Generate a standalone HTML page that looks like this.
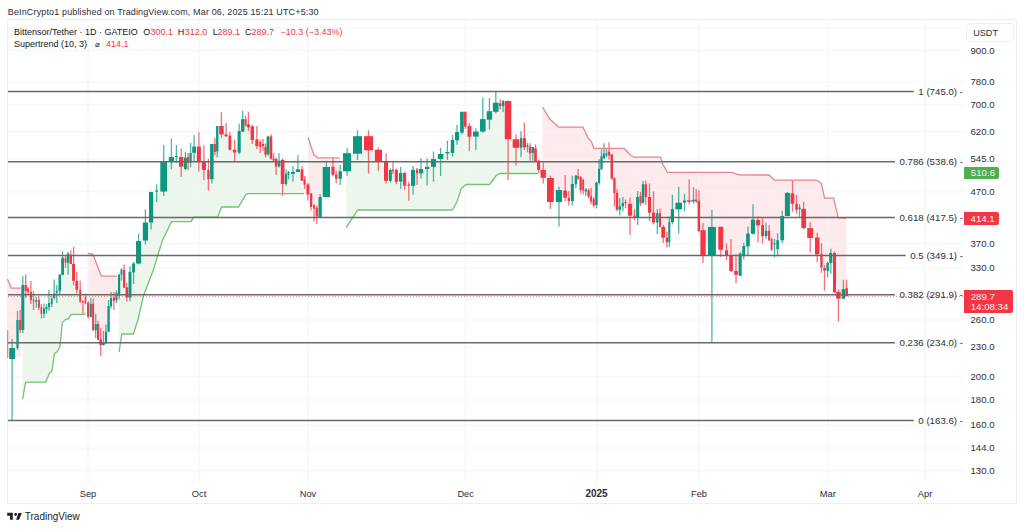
<!DOCTYPE html><html><head><meta charset="utf-8"><style>
html,body{margin:0;padding:0;background:#fff;width:1024px;height:530px;overflow:hidden}
body{position:relative;font-family:"Liberation Sans",sans-serif;color:#131722}
.t{position:absolute;white-space:nowrap;line-height:10px;height:10px}
.r{color:#f23645}
svg{position:absolute;left:0;top:0}
</style></head><body>
<svg width="1024" height="530" viewBox="0 0 1024 530">
<polygon points="7.4,279.0 11.3,288.1 20.7,288.1 21.3,288.1 21.3,357.0 7.5,357.0" fill="#fdeaec"/>
<polygon points="22.7,399.2 25.6,382.1 45.8,382.1 49.2,373.8 52.0,371.0 54.4,353.6 57.0,352.0 60.0,346.8 62.3,322.6 65.3,319.6 68.3,318.9 71.3,314.3 85.7,314.3 85.7,300.2 85.5,300.2 82.9,301.8 80.2,295.6 76.8,285.3 73.6,272.4 70.8,259.5 68.1,258.1 65.5,260.2 62.6,266.2 59.8,282.7 56.8,291.8 54.2,295.7 51.7,301.1 49.0,305.0 46.5,308.1 44.0,311.1 41.4,310.4 38.8,303.8 36.2,300.9 33.5,300.5 30.9,295.9 28.1,290.2 25.7,288.0 22.8,307.5 22.7,307.5" fill="#ecf6ec"/>
<polygon points="87.8,253.4 92.3,253.9 93.4,255.4 101.4,276.2 116.8,276.2 116.8,296.6 116.5,296.6 113.9,299.2 111.0,302.1 108.6,318.9 106.0,337.4 103.5,343.5 100.7,342.1 98.0,331.9 95.7,327.1 93.2,317.1 90.8,310.4 88.2,309.8 87.8,309.8" fill="#fdeaec"/>
<polygon points="119.1,352.1 121.7,334.0 133.4,334.0 137.9,320.0 143.7,294.9 153.3,270.0 162.6,240.0 168.0,229.0 170.0,224.5 171.7,221.7 191.0,221.7 193.8,217.2 217.6,217.2 221.5,207.0 238.5,207.0 246.0,194.4 248.3,193.7 304.3,193.7 304.3,181.9 304.6,181.9 302.0,174.9 297.9,170.7 293.0,172.9 288.5,173.5 286.1,178.9 282.6,172.0 279.0,163.6 276.1,162.7 273.6,159.6 271.1,147.6 268.1,145.4 265.5,150.8 263.0,145.0 260.2,144.5 256.9,142.8 252.3,133.2 248.4,125.8 245.6,122.0 242.7,125.4 239.1,141.8 234.6,151.1 229.9,142.6 226.1,135.2 221.4,130.2 217.2,138.7 214.9,148.0 211.8,161.6 208.4,174.5 203.9,166.1 198.9,154.4 194.1,149.7 190.6,157.8 188.1,159.8 185.4,163.3 181.2,161.8 176.4,156.4 171.4,159.0 163.7,176.3 156.6,191.1 151.1,207.2 145.4,231.5 138.6,252.3 133.6,267.9 130.0,284.7 126.8,292.4 124.1,278.9 121.5,272.1 119.1,285.1 119.1,285.1" fill="#ecf6ec"/>
<polygon points="308.2,137.5 313.7,154.4 317.5,157.8 339.7,157.8 339.7,175.0 340.2,175.0 336.2,176.7 332.9,170.8 326.4,182.0 320.1,207.0 316.8,212.2 314.0,206.9 311.1,200.2 307.9,189.5 308.2,189.5" fill="#fdeaec"/>
<polygon points="346.2,227.6 357.6,210.0 452.4,210.0 456.8,202.1 461.3,188.5 465.9,184.5 489.6,184.5 496.4,175.5 499.8,173.5 538.0,173.5 538.0,165.4 538.7,165.4 535.5,155.2 532.8,150.0 530.0,150.1 527.5,146.0 524.3,142.8 521.0,143.0 516.0,143.6 508.1,120.2 503.1,103.5 500.2,104.7 495.8,107.2 489.4,115.5 482.8,125.3 475.9,134.1 469.4,131.3 465.3,119.2 462.0,122.2 457.0,136.2 452.5,146.4 447.4,152.7 440.6,156.5 433.5,162.9 427.1,167.9 421.0,171.2 417.1,171.4 413.1,177.8 408.8,185.2 404.6,179.3 400.7,177.2 396.4,175.9 393.0,170.3 390.4,175.4 386.1,171.2 378.4,155.9 368.5,143.2 357.5,144.9 347.1,162.2 346.2,162.2" fill="#ecf6ec"/>
<polygon points="542.5,107.0 550.0,119.3 558.7,127.2 583.0,127.2 588.1,137.9 591.5,141.9 593.8,148.3 624.0,148.3 630.5,155.0 634.0,157.2 660.6,157.2 662.8,164.3 667.4,172.4 731.5,172.4 739.0,174.9 769.2,175.0 774.2,180.0 817.1,180.2 821.3,183.5 824.6,198.1 833.6,198.1 838.3,217.9 846.3,218.4 846.3,292.2 846.6,292.2 843.4,293.9 838.4,295.3 834.5,272.6 830.8,257.9 827.6,266.9 824.5,269.3 821.5,261.0 817.2,245.9 810.2,233.1 803.6,218.4 799.5,208.2 796.5,206.9 792.5,198.6 787.4,204.4 782.2,228.2 777.6,244.8 774.5,243.8 771.6,244.5 769.2,235.6 766.0,233.4 762.5,230.6 758.0,222.7 753.0,226.8 748.0,240.0 743.8,250.9 740.2,264.6 736.0,272.9 731.0,263.2 726.5,252.9 720.8,238.3 711.9,241.2 703.0,242.8 698.9,215.9 696.2,200.5 693.5,200.6 689.2,201.1 684.5,201.6 678.7,206.0 672.4,215.7 669.3,232.3 666.9,239.8 663.2,232.3 660.0,220.1 657.3,217.9 653.5,217.6 649.5,204.8 645.8,190.7 643.0,193.5 640.5,199.6 637.7,207.1 634.5,216.4 630.0,209.8 625.5,202.8 622.9,204.8 619.8,208.1 617.0,201.2 614.4,185.4 611.8,166.6 609.0,153.6 606.5,154.5 604.0,155.9 601.5,162.7 599.1,175.9 596.5,193.8 593.7,202.4 591.1,198.9 588.6,193.4 585.8,190.5 583.2,185.2 580.6,183.7 578.1,177.3 575.9,180.0 572.3,192.5 568.8,199.5 565.2,194.1 559.0,196.0 550.4,190.0 543.2,173.9 542.5,173.9" fill="#fdeaec"/>
<g>
<rect x="7.5" y="19.5" width="1009" height="484" fill="none" stroke="#efeff1" stroke-width="1"/>
<line x1="8" y1="27.7" x2="963" y2="27.7" stroke="#f4f5f6" stroke-opacity="0.6" stroke-width="2"/>
<line x1="8" y1="50.6" x2="963" y2="50.6" stroke="#f4f5f6" stroke-opacity="0.6" stroke-width="2"/>
<line x1="8" y1="81.7" x2="963" y2="81.7" stroke="#f4f5f6" stroke-opacity="0.6" stroke-width="2"/>
<line x1="8" y1="105.1" x2="963" y2="105.1" stroke="#f4f5f6" stroke-opacity="0.6" stroke-width="2"/>
<line x1="8" y1="131.5" x2="963" y2="131.5" stroke="#f4f5f6" stroke-opacity="0.6" stroke-width="2"/>
<line x1="8" y1="159.4" x2="963" y2="159.4" stroke="#f4f5f6" stroke-opacity="0.6" stroke-width="2"/>
<line x1="8" y1="191.6" x2="963" y2="191.6" stroke="#f4f5f6" stroke-opacity="0.6" stroke-width="2"/>
<line x1="8" y1="243.5" x2="963" y2="243.5" stroke="#f4f5f6" stroke-opacity="0.6" stroke-width="2"/>
<line x1="8" y1="268.3" x2="963" y2="268.3" stroke="#f4f5f6" stroke-opacity="0.6" stroke-width="2"/>
<line x1="8" y1="320.1" x2="963" y2="320.1" stroke="#f4f5f6" stroke-opacity="0.6" stroke-width="2"/>
<line x1="8" y1="346.7" x2="963" y2="346.7" stroke="#f4f5f6" stroke-opacity="0.6" stroke-width="2"/>
<line x1="8" y1="377.0" x2="963" y2="377.0" stroke="#f4f5f6" stroke-opacity="0.6" stroke-width="2"/>
<line x1="8" y1="399.8" x2="963" y2="399.8" stroke="#f4f5f6" stroke-opacity="0.6" stroke-width="2"/>
<line x1="8" y1="425.4" x2="963" y2="425.4" stroke="#f4f5f6" stroke-opacity="0.6" stroke-width="2"/>
<line x1="8" y1="448.3" x2="963" y2="448.3" stroke="#f4f5f6" stroke-opacity="0.6" stroke-width="2"/>
<line x1="8" y1="470.5" x2="963" y2="470.5" stroke="#f4f5f6" stroke-opacity="0.6" stroke-width="2"/>
<line x1="88" y1="20" x2="88" y2="483" stroke="#f4f5f6" stroke-opacity="0.6" stroke-width="2"/>
<line x1="199" y1="20" x2="199" y2="483" stroke="#f4f5f6" stroke-opacity="0.6" stroke-width="2"/>
<line x1="308" y1="20" x2="308" y2="483" stroke="#f4f5f6" stroke-opacity="0.6" stroke-width="2"/>
<line x1="465.7" y1="20" x2="465.7" y2="483" stroke="#f4f5f6" stroke-opacity="0.6" stroke-width="2"/>
<line x1="596.7" y1="20" x2="596.7" y2="483" stroke="#f4f5f6" stroke-opacity="0.6" stroke-width="2"/>
<line x1="699" y1="20" x2="699" y2="483" stroke="#f4f5f6" stroke-opacity="0.6" stroke-width="2"/>
<line x1="827.8" y1="20" x2="827.8" y2="483" stroke="#f4f5f6" stroke-opacity="0.6" stroke-width="2"/>
<line x1="925" y1="20" x2="925" y2="483" stroke="#f4f5f6" stroke-opacity="0.6" stroke-width="2"/>
</g>
<line x1="7.6" y1="330" x2="7.6" y2="358" stroke="#f23645" stroke-opacity="0.6" stroke-width="1.2"/>
<line x1="12.1" y1="339" x2="12.1" y2="420" stroke="#0c9880" stroke-opacity="0.72" stroke-width="1.3"/>
<rect x="9.2" y="348" width="5.9" height="11.0" fill="#0c9880"/>
<line x1="17.5" y1="311" x2="17.5" y2="350" stroke="#0c9880" stroke-opacity="0.72" stroke-width="1.3"/>
<rect x="16.4" y="320" width="2.2" height="28.0" fill="#0c9880"/>
<line x1="20.2" y1="310" x2="20.2" y2="333" stroke="#f23645" stroke-opacity="0.72" stroke-width="1.3"/>
<rect x="19.2" y="320" width="2.0" height="10.0" fill="#f23645"/>
<line x1="22.8" y1="276" x2="22.8" y2="333" stroke="#0c9880" stroke-opacity="0.72" stroke-width="1.3"/>
<rect x="21.3" y="285" width="3.0" height="45.0" fill="#0c9880"/>
<line x1="25.7" y1="274.5" x2="25.7" y2="298" stroke="#f23645" stroke-opacity="0.72" stroke-width="1.3"/>
<rect x="24.6" y="285" width="2.2" height="6.0" fill="#f23645"/>
<line x1="28.1" y1="286.8" x2="28.1" y2="294.3" stroke="#f23645" stroke-opacity="0.72" stroke-width="1.3"/>
<rect x="27.1" y="288.5" width="1.9" height="3.5" fill="#f23645"/>
<line x1="30.9" y1="281" x2="30.9" y2="304" stroke="#f23645" stroke-opacity="0.72" stroke-width="1.3"/>
<rect x="30" y="291.8" width="1.9" height="8.2" fill="#f23645"/>
<line x1="33.5" y1="291" x2="33.5" y2="310" stroke="#f23645" stroke-opacity="0.72" stroke-width="1.3"/>
<rect x="32.9" y="299.4" width="1.3" height="2.3" fill="#f23645"/>
<line x1="36.2" y1="296.8" x2="36.2" y2="307.7" stroke="#0c9880" stroke-opacity="0.72" stroke-width="1.3"/>
<rect x="35.3" y="300" width="1.9" height="1.7" fill="#0c9880"/>
<line x1="38.8" y1="296.4" x2="38.8" y2="310" stroke="#f23645" stroke-opacity="0.72" stroke-width="1.3"/>
<rect x="37.9" y="299.8" width="1.9" height="7.9" fill="#f23645"/>
<line x1="41.4" y1="304" x2="41.4" y2="318.5" stroke="#f23645" stroke-opacity="0.72" stroke-width="1.3"/>
<rect x="40.6" y="307" width="1.6" height="6.7" fill="#f23645"/>
<line x1="44.0" y1="303.5" x2="44.0" y2="318" stroke="#0c9880" stroke-opacity="0.72" stroke-width="1.3"/>
<rect x="43" y="308.5" width="2.0" height="5.2" fill="#0c9880"/>
<line x1="46.5" y1="304" x2="46.5" y2="313.7" stroke="#0c9880" stroke-opacity="0.72" stroke-width="1.3"/>
<rect x="45.5" y="307" width="1.9" height="2.2" fill="#0c9880"/>
<line x1="49.0" y1="290" x2="49.0" y2="310.7" stroke="#0c9880" stroke-opacity="0.72" stroke-width="1.3"/>
<rect x="48" y="303" width="2.0" height="4.0" fill="#0c9880"/>
<line x1="51.7" y1="295.6" x2="51.7" y2="307" stroke="#0c9880" stroke-opacity="0.72" stroke-width="1.3"/>
<rect x="50.8" y="298.3" width="1.8" height="5.7" fill="#0c9880"/>
<line x1="54.2" y1="279.4" x2="54.2" y2="299.4" stroke="#0c9880" stroke-opacity="0.72" stroke-width="1.3"/>
<rect x="53.2" y="293.4" width="2.1" height="4.6" fill="#0c9880"/>
<line x1="56.8" y1="285" x2="56.8" y2="303" stroke="#0c9880" stroke-opacity="0.72" stroke-width="1.3"/>
<rect x="55.7" y="291" width="2.2" height="1.6" fill="#0c9880"/>
<line x1="59.8" y1="274" x2="59.8" y2="294" stroke="#0c9880" stroke-opacity="0.72" stroke-width="1.3"/>
<rect x="58.5" y="274.7" width="2.5" height="16.0" fill="#0c9880"/>
<line x1="62.6" y1="251.3" x2="62.6" y2="275.5" stroke="#0c9880" stroke-opacity="0.72" stroke-width="1.3"/>
<rect x="61.2" y="257.8" width="2.8" height="16.9" fill="#0c9880"/>
<line x1="65.5" y1="255" x2="65.5" y2="268" stroke="#f23645" stroke-opacity="0.72" stroke-width="1.3"/>
<rect x="64.6" y="257.8" width="1.8" height="4.8" fill="#f23645"/>
<line x1="68.1" y1="251.8" x2="68.1" y2="274.7" stroke="#0c9880" stroke-opacity="0.72" stroke-width="1.3"/>
<rect x="66.8" y="253.6" width="2.6" height="9.0" fill="#0c9880"/>
<line x1="70.8" y1="250.3" x2="70.8" y2="264" stroke="#f23645" stroke-opacity="0.72" stroke-width="1.3"/>
<rect x="69.7" y="255" width="2.3" height="9.0" fill="#f23645"/>
<line x1="73.6" y1="246.8" x2="73.6" y2="285.3" stroke="#f23645" stroke-opacity="0.72" stroke-width="1.3"/>
<rect x="72.1" y="264" width="3.0" height="16.8" fill="#f23645"/>
<line x1="76.8" y1="271.7" x2="76.8" y2="293.6" stroke="#f23645" stroke-opacity="0.72" stroke-width="1.3"/>
<rect x="75.4" y="280.8" width="2.8" height="9.0" fill="#f23645"/>
<line x1="80.2" y1="280.7" x2="80.2" y2="303" stroke="#f23645" stroke-opacity="0.72" stroke-width="1.3"/>
<rect x="79.3" y="289.7" width="1.9" height="11.8" fill="#f23645"/>
<line x1="82.9" y1="300.5" x2="82.9" y2="313.7" stroke="#f23645" stroke-opacity="0.72" stroke-width="1.3"/>
<rect x="82.1" y="301" width="1.6" height="1.5" fill="#f23645"/>
<line x1="85.5" y1="293.5" x2="85.5" y2="304.3" stroke="#f23645" stroke-opacity="0.72" stroke-width="1.3"/>
<rect x="84.7" y="297" width="1.5" height="6.4" fill="#f23645"/>
<line x1="88.2" y1="301" x2="88.2" y2="318.5" stroke="#f23645" stroke-opacity="0.72" stroke-width="1.3"/>
<rect x="87.1" y="302.9" width="2.1" height="13.7" fill="#f23645"/>
<line x1="90.8" y1="298" x2="90.8" y2="317.5" stroke="#0c9880" stroke-opacity="0.72" stroke-width="1.3"/>
<rect x="89.7" y="303.8" width="2.1" height="13.2" fill="#0c9880"/>
<line x1="93.2" y1="298.6" x2="93.2" y2="330.8" stroke="#f23645" stroke-opacity="0.72" stroke-width="1.3"/>
<rect x="92.2" y="303.8" width="1.9" height="26.5" fill="#f23645"/>
<line x1="95.7" y1="313.8" x2="95.7" y2="338.3" stroke="#0c9880" stroke-opacity="0.72" stroke-width="1.3"/>
<rect x="94.6" y="324" width="2.2" height="6.3" fill="#0c9880"/>
<line x1="98.0" y1="320.8" x2="98.0" y2="340.2" stroke="#f23645" stroke-opacity="0.72" stroke-width="1.3"/>
<rect x="97" y="324" width="2.1" height="15.7" fill="#f23645"/>
<line x1="100.7" y1="328" x2="100.7" y2="356.2" stroke="#f23645" stroke-opacity="0.72" stroke-width="1.3"/>
<rect x="99.4" y="339.2" width="2.5" height="5.8" fill="#f23645"/>
<line x1="103.5" y1="331" x2="103.5" y2="345.5" stroke="#0c9880" stroke-opacity="0.72" stroke-width="1.3"/>
<rect x="102.2" y="342" width="2.6" height="3.0" fill="#0c9880"/>
<line x1="106.0" y1="324.6" x2="106.0" y2="344" stroke="#0c9880" stroke-opacity="0.72" stroke-width="1.3"/>
<rect x="105" y="331.7" width="2.1" height="11.3" fill="#0c9880"/>
<line x1="108.6" y1="300" x2="108.6" y2="332" stroke="#0c9880" stroke-opacity="0.72" stroke-width="1.3"/>
<rect x="107.4" y="306" width="2.3" height="25.7" fill="#0c9880"/>
<line x1="111.0" y1="291.9" x2="111.0" y2="308.5" stroke="#0c9880" stroke-opacity="0.72" stroke-width="1.3"/>
<rect x="110" y="298" width="2.1" height="8.2" fill="#0c9880"/>
<line x1="113.9" y1="292" x2="113.9" y2="310" stroke="#f23645" stroke-opacity="0.72" stroke-width="1.3"/>
<rect x="112.9" y="297.5" width="2.0" height="3.5" fill="#f23645"/>
<line x1="116.5" y1="290.4" x2="116.5" y2="303.2" stroke="#0c9880" stroke-opacity="0.72" stroke-width="1.3"/>
<rect x="115.4" y="293" width="2.1" height="7.2" fill="#0c9880"/>
<line x1="119.1" y1="274" x2="119.1" y2="299.4" stroke="#0c9880" stroke-opacity="0.72" stroke-width="1.3"/>
<rect x="117.9" y="274.5" width="2.3" height="21.2" fill="#0c9880"/>
<line x1="121.5" y1="268.2" x2="121.5" y2="280.6" stroke="#0c9880" stroke-opacity="0.72" stroke-width="1.3"/>
<rect x="120.5" y="269.6" width="1.9" height="4.9" fill="#0c9880"/>
<line x1="124.1" y1="264.4" x2="124.1" y2="288" stroke="#f23645" stroke-opacity="0.72" stroke-width="1.3"/>
<rect x="123" y="270" width="2.2" height="17.7" fill="#f23645"/>
<line x1="126.8" y1="282.8" x2="126.8" y2="301.7" stroke="#f23645" stroke-opacity="0.72" stroke-width="1.3"/>
<rect x="125.5" y="287.4" width="2.6" height="10.1" fill="#f23645"/>
<line x1="130.0" y1="266.3" x2="130.0" y2="301.3" stroke="#0c9880" stroke-opacity="0.72" stroke-width="1.3"/>
<rect x="128.5" y="271.9" width="3.0" height="25.6" fill="#0c9880"/>
<line x1="133.6" y1="261.9" x2="133.6" y2="284" stroke="#0c9880" stroke-opacity="0.72" stroke-width="1.3"/>
<rect x="132.1" y="263.5" width="2.9" height="8.8" fill="#0c9880"/>
<line x1="138.6" y1="233.8" x2="138.6" y2="264.4" stroke="#0c9880" stroke-opacity="0.72" stroke-width="1.3"/>
<rect x="136" y="241.1" width="5.1" height="22.4" fill="#0c9880"/>
<line x1="145.4" y1="209.3" x2="145.4" y2="244.6" stroke="#0c9880" stroke-opacity="0.72" stroke-width="1.3"/>
<rect x="142.8" y="222.5" width="5.2" height="18.0" fill="#0c9880"/>
<line x1="151.1" y1="191.9" x2="151.1" y2="229.6" stroke="#0c9880" stroke-opacity="0.72" stroke-width="1.3"/>
<rect x="149" y="191.9" width="4.2" height="30.6" fill="#0c9880"/>
<line x1="156.6" y1="184.3" x2="156.6" y2="202.3" stroke="#0c9880" stroke-opacity="0.72" stroke-width="1.3"/>
<rect x="155.2" y="190.5" width="2.8" height="1.1" fill="#0c9880"/>
<line x1="163.7" y1="145" x2="163.7" y2="196" stroke="#0c9880" stroke-opacity="0.72" stroke-width="1.3"/>
<rect x="160.3" y="161" width="6.7" height="30.6" fill="#0c9880"/>
<line x1="171.4" y1="138.4" x2="171.4" y2="169" stroke="#0c9880" stroke-opacity="0.72" stroke-width="1.3"/>
<rect x="168.8" y="157" width="5.1" height="4.0" fill="#0c9880"/>
<line x1="176.4" y1="145" x2="176.4" y2="162.7" stroke="#0c9880" stroke-opacity="0.72" stroke-width="1.3"/>
<rect x="175" y="156" width="2.8" height="1.0" fill="#0c9880"/>
<line x1="181.2" y1="148.6" x2="181.2" y2="176.9" stroke="#f23645" stroke-opacity="0.72" stroke-width="1.3"/>
<rect x="179" y="157" width="4.5" height="9.7" fill="#f23645"/>
<line x1="185.4" y1="151.8" x2="185.4" y2="170" stroke="#0c9880" stroke-opacity="0.72" stroke-width="1.3"/>
<rect x="184" y="157.6" width="2.9" height="11.4" fill="#0c9880"/>
<line x1="188.1" y1="153" x2="188.1" y2="170" stroke="#f23645" stroke-opacity="0.72" stroke-width="1.3"/>
<rect x="187.1" y="157" width="2.1" height="5.7" fill="#f23645"/>
<line x1="190.6" y1="143" x2="190.6" y2="167.3" stroke="#0c9880" stroke-opacity="0.72" stroke-width="1.3"/>
<rect x="189.4" y="153" width="2.3" height="9.7" fill="#0c9880"/>
<line x1="194.1" y1="135" x2="194.1" y2="161.2" stroke="#0c9880" stroke-opacity="0.72" stroke-width="1.3"/>
<rect x="192.2" y="146.6" width="3.8" height="6.2" fill="#0c9880"/>
<line x1="198.9" y1="132.2" x2="198.9" y2="171.5" stroke="#f23645" stroke-opacity="0.72" stroke-width="1.3"/>
<rect x="196.9" y="146.6" width="4.0" height="15.6" fill="#f23645"/>
<line x1="203.9" y1="145.2" x2="203.9" y2="180.2" stroke="#f23645" stroke-opacity="0.72" stroke-width="1.3"/>
<rect x="201.8" y="162.2" width="4.2" height="7.7" fill="#f23645"/>
<line x1="208.4" y1="159" x2="208.4" y2="190.6" stroke="#f23645" stroke-opacity="0.72" stroke-width="1.3"/>
<rect x="207.3" y="169.8" width="2.3" height="9.4" fill="#f23645"/>
<line x1="211.8" y1="144" x2="211.8" y2="183.5" stroke="#0c9880" stroke-opacity="0.72" stroke-width="1.3"/>
<rect x="210.1" y="144" width="3.5" height="35.2" fill="#0c9880"/>
<line x1="214.9" y1="137.8" x2="214.9" y2="155.3" stroke="#f23645" stroke-opacity="0.72" stroke-width="1.3"/>
<rect x="213.9" y="144" width="2.0" height="8.0" fill="#f23645"/>
<line x1="217.2" y1="126" x2="217.2" y2="157.6" stroke="#0c9880" stroke-opacity="0.72" stroke-width="1.3"/>
<rect x="216.1" y="126" width="2.3" height="25.4" fill="#0c9880"/>
<line x1="221.4" y1="112" x2="221.4" y2="137.8" stroke="#f23645" stroke-opacity="0.72" stroke-width="1.3"/>
<rect x="219.2" y="126" width="4.5" height="8.4" fill="#f23645"/>
<line x1="226.1" y1="123.1" x2="226.1" y2="137" stroke="#f23645" stroke-opacity="0.72" stroke-width="1.3"/>
<rect x="224.5" y="134.4" width="3.1" height="1.7" fill="#f23645"/>
<line x1="229.9" y1="132.2" x2="229.9" y2="150.5" stroke="#f23645" stroke-opacity="0.72" stroke-width="1.3"/>
<rect x="228.5" y="135.6" width="2.8" height="14.1" fill="#f23645"/>
<line x1="234.6" y1="139.5" x2="234.6" y2="162.3" stroke="#f23645" stroke-opacity="0.72" stroke-width="1.3"/>
<rect x="232.8" y="149.7" width="3.5" height="2.8" fill="#f23645"/>
<line x1="239.1" y1="123.7" x2="239.1" y2="154.3" stroke="#0c9880" stroke-opacity="0.72" stroke-width="1.3"/>
<rect x="237.6" y="131" width="3.1" height="21.6" fill="#0c9880"/>
<line x1="242.7" y1="110.7" x2="242.7" y2="132" stroke="#0c9880" stroke-opacity="0.72" stroke-width="1.3"/>
<rect x="241" y="119.2" width="3.4" height="12.4" fill="#0c9880"/>
<line x1="245.6" y1="115.8" x2="245.6" y2="126.5" stroke="#f23645" stroke-opacity="0.72" stroke-width="1.3"/>
<rect x="244.6" y="119.2" width="2.0" height="5.6" fill="#f23645"/>
<line x1="248.4" y1="111.8" x2="248.4" y2="131" stroke="#f23645" stroke-opacity="0.72" stroke-width="1.3"/>
<rect x="246.8" y="124.3" width="3.2" height="3.0" fill="#f23645"/>
<line x1="252.3" y1="124.7" x2="252.3" y2="144" stroke="#f23645" stroke-opacity="0.72" stroke-width="1.3"/>
<rect x="250.6" y="126.4" width="3.4" height="13.6" fill="#f23645"/>
<line x1="256.9" y1="125.9" x2="256.9" y2="149" stroke="#f23645" stroke-opacity="0.72" stroke-width="1.3"/>
<rect x="255.3" y="139.4" width="3.2" height="6.8" fill="#f23645"/>
<line x1="260.2" y1="139.4" x2="260.2" y2="153" stroke="#f23645" stroke-opacity="0.72" stroke-width="1.3"/>
<rect x="259.3" y="142" width="1.9" height="5.0" fill="#f23645"/>
<line x1="263.0" y1="138.9" x2="263.0" y2="150.8" stroke="#f23645" stroke-opacity="0.72" stroke-width="1.3"/>
<rect x="261.9" y="144" width="2.3" height="2.0" fill="#f23645"/>
<line x1="265.5" y1="143.4" x2="265.5" y2="157.6" stroke="#f23645" stroke-opacity="0.72" stroke-width="1.3"/>
<rect x="264.4" y="146.8" width="2.2" height="7.9" fill="#f23645"/>
<line x1="268.1" y1="135.5" x2="268.1" y2="156" stroke="#0c9880" stroke-opacity="0.72" stroke-width="1.3"/>
<rect x="266.6" y="136.6" width="2.9" height="17.6" fill="#0c9880"/>
<line x1="271.1" y1="134.3" x2="271.1" y2="159.8" stroke="#f23645" stroke-opacity="0.72" stroke-width="1.3"/>
<rect x="269.8" y="136.6" width="2.5" height="22.1" fill="#f23645"/>
<line x1="273.6" y1="153" x2="273.6" y2="161" stroke="#f23645" stroke-opacity="0.72" stroke-width="1.3"/>
<rect x="272.5" y="158.7" width="2.1" height="1.7" fill="#f23645"/>
<line x1="276.1" y1="157.6" x2="276.1" y2="175" stroke="#f23645" stroke-opacity="0.72" stroke-width="1.3"/>
<rect x="274.8" y="159" width="2.6" height="7.4" fill="#f23645"/>
<line x1="279.0" y1="153.2" x2="279.0" y2="167.6" stroke="#0c9880" stroke-opacity="0.72" stroke-width="1.3"/>
<rect x="277.7" y="160.8" width="2.7" height="5.6" fill="#0c9880"/>
<line x1="282.6" y1="158.5" x2="282.6" y2="195.9" stroke="#f23645" stroke-opacity="0.72" stroke-width="1.3"/>
<rect x="280.8" y="160" width="3.7" height="24.0" fill="#f23645"/>
<line x1="286.1" y1="169.3" x2="286.1" y2="185.7" stroke="#0c9880" stroke-opacity="0.72" stroke-width="1.3"/>
<rect x="285" y="173.8" width="2.2" height="10.2" fill="#0c9880"/>
<line x1="288.5" y1="171" x2="288.5" y2="179.4" stroke="#0c9880" stroke-opacity="0.72" stroke-width="1.3"/>
<rect x="287.6" y="172" width="1.7" height="3.0" fill="#0c9880"/>
<line x1="293.0" y1="165.9" x2="293.0" y2="181.7" stroke="#0c9880" stroke-opacity="0.72" stroke-width="1.3"/>
<rect x="291" y="172" width="4.0" height="1.8" fill="#0c9880"/>
<line x1="297.9" y1="155.1" x2="297.9" y2="172" stroke="#0c9880" stroke-opacity="0.72" stroke-width="1.3"/>
<rect x="295.8" y="169.3" width="4.2" height="2.7" fill="#0c9880"/>
<line x1="302.0" y1="165.9" x2="302.0" y2="181" stroke="#f23645" stroke-opacity="0.72" stroke-width="1.3"/>
<rect x="300.6" y="169.3" width="2.8" height="11.3" fill="#f23645"/>
<line x1="304.6" y1="176" x2="304.6" y2="189" stroke="#f23645" stroke-opacity="0.72" stroke-width="1.3"/>
<rect x="303.5" y="179.4" width="2.2" height="5.1" fill="#f23645"/>
<line x1="307.9" y1="182.8" x2="307.9" y2="200.6" stroke="#f23645" stroke-opacity="0.72" stroke-width="1.3"/>
<rect x="306.4" y="184.5" width="3.0" height="10.0" fill="#f23645"/>
<line x1="311.1" y1="193" x2="311.1" y2="210.5" stroke="#f23645" stroke-opacity="0.72" stroke-width="1.3"/>
<rect x="310" y="193.5" width="2.3" height="13.5" fill="#f23645"/>
<line x1="314.0" y1="204" x2="314.0" y2="221.5" stroke="#f23645" stroke-opacity="0.72" stroke-width="1.3"/>
<rect x="313.2" y="205.2" width="1.7" height="3.4" fill="#f23645"/>
<line x1="316.8" y1="205.6" x2="316.8" y2="224.1" stroke="#f23645" stroke-opacity="0.72" stroke-width="1.3"/>
<rect x="315.6" y="207.9" width="2.3" height="8.7" fill="#f23645"/>
<line x1="320.1" y1="194" x2="320.1" y2="217.5" stroke="#0c9880" stroke-opacity="0.72" stroke-width="1.3"/>
<rect x="318.5" y="197" width="3.3" height="20.0" fill="#0c9880"/>
<line x1="326.4" y1="160.8" x2="326.4" y2="197.5" stroke="#0c9880" stroke-opacity="0.72" stroke-width="1.3"/>
<rect x="322.7" y="167" width="7.3" height="30.0" fill="#0c9880"/>
<line x1="332.9" y1="157.7" x2="332.9" y2="176.4" stroke="#f23645" stroke-opacity="0.72" stroke-width="1.3"/>
<rect x="331.4" y="166.8" width="3.1" height="7.9" fill="#f23645"/>
<line x1="336.2" y1="171.3" x2="336.2" y2="183.2" stroke="#f23645" stroke-opacity="0.72" stroke-width="1.3"/>
<rect x="335" y="174.7" width="2.5" height="4.0" fill="#f23645"/>
<line x1="340.2" y1="165" x2="340.2" y2="184.9" stroke="#0c9880" stroke-opacity="0.72" stroke-width="1.3"/>
<rect x="338.5" y="171.3" width="3.4" height="7.4" fill="#0c9880"/>
<line x1="347.1" y1="148.1" x2="347.1" y2="175.8" stroke="#0c9880" stroke-opacity="0.72" stroke-width="1.3"/>
<rect x="343" y="153.2" width="8.1" height="18.1" fill="#0c9880"/>
<line x1="357.5" y1="130.3" x2="357.5" y2="160" stroke="#0c9880" stroke-opacity="0.72" stroke-width="1.3"/>
<rect x="353" y="136.2" width="9.0" height="17.5" fill="#0c9880"/>
<line x1="368.5" y1="130.3" x2="368.5" y2="173.6" stroke="#f23645" stroke-opacity="0.72" stroke-width="1.3"/>
<rect x="364" y="136.2" width="9.0" height="14.1" fill="#f23645"/>
<line x1="378.4" y1="147.5" x2="378.4" y2="170.7" stroke="#f23645" stroke-opacity="0.72" stroke-width="1.3"/>
<rect x="374.9" y="149.8" width="7.1" height="12.2" fill="#f23645"/>
<line x1="386.1" y1="153.2" x2="386.1" y2="183.5" stroke="#f23645" stroke-opacity="0.72" stroke-width="1.3"/>
<rect x="384" y="161.7" width="4.1" height="19.1" fill="#f23645"/>
<line x1="390.4" y1="168.4" x2="390.4" y2="182.7" stroke="#0c9880" stroke-opacity="0.72" stroke-width="1.3"/>
<rect x="388.9" y="169.9" width="2.9" height="10.9" fill="#0c9880"/>
<line x1="393.0" y1="162.3" x2="393.0" y2="174" stroke="#f23645" stroke-opacity="0.72" stroke-width="1.3"/>
<rect x="392.2" y="169.5" width="1.7" height="1.7" fill="#f23645"/>
<line x1="396.4" y1="168.5" x2="396.4" y2="184.2" stroke="#f23645" stroke-opacity="0.72" stroke-width="1.3"/>
<rect x="394.8" y="169.9" width="3.1" height="11.9" fill="#f23645"/>
<line x1="400.7" y1="166.9" x2="400.7" y2="188.8" stroke="#0c9880" stroke-opacity="0.72" stroke-width="1.3"/>
<rect x="399" y="172.9" width="3.4" height="8.7" fill="#0c9880"/>
<line x1="404.6" y1="172" x2="404.6" y2="189.9" stroke="#f23645" stroke-opacity="0.72" stroke-width="1.3"/>
<rect x="403.1" y="172.9" width="3.1" height="12.8" fill="#f23645"/>
<line x1="408.8" y1="182" x2="408.8" y2="200.8" stroke="#f23645" stroke-opacity="0.72" stroke-width="1.3"/>
<rect x="407.5" y="184.6" width="2.5" height="1.2" fill="#f23645"/>
<line x1="413.1" y1="166.1" x2="413.1" y2="194.8" stroke="#0c9880" stroke-opacity="0.72" stroke-width="1.3"/>
<rect x="411" y="169.8" width="4.2" height="16.0" fill="#0c9880"/>
<line x1="417.1" y1="168" x2="417.1" y2="185" stroke="#f23645" stroke-opacity="0.72" stroke-width="1.3"/>
<rect x="416" y="169.5" width="2.1" height="3.8" fill="#f23645"/>
<line x1="421.0" y1="158.3" x2="421.0" y2="178.4" stroke="#0c9880" stroke-opacity="0.72" stroke-width="1.3"/>
<rect x="418.9" y="169.1" width="4.3" height="4.3" fill="#0c9880"/>
<line x1="427.1" y1="158.3" x2="427.1" y2="185.5" stroke="#0c9880" stroke-opacity="0.72" stroke-width="1.3"/>
<rect x="425" y="166.8" width="4.3" height="2.2" fill="#0c9880"/>
<line x1="433.5" y1="151.4" x2="433.5" y2="181.6" stroke="#0c9880" stroke-opacity="0.72" stroke-width="1.3"/>
<rect x="431" y="159" width="5.0" height="7.9" fill="#0c9880"/>
<line x1="440.6" y1="147.8" x2="440.6" y2="176" stroke="#0c9880" stroke-opacity="0.72" stroke-width="1.3"/>
<rect x="437.8" y="154" width="5.6" height="5.0" fill="#0c9880"/>
<line x1="447.4" y1="140.7" x2="447.4" y2="160.1" stroke="#0c9880" stroke-opacity="0.72" stroke-width="1.3"/>
<rect x="445.3" y="152" width="4.1" height="1.4" fill="#0c9880"/>
<line x1="452.5" y1="135" x2="452.5" y2="156.7" stroke="#0c9880" stroke-opacity="0.72" stroke-width="1.3"/>
<rect x="450.8" y="139.9" width="3.4" height="13.1" fill="#0c9880"/>
<line x1="457.0" y1="124.8" x2="457.0" y2="144.8" stroke="#0c9880" stroke-opacity="0.72" stroke-width="1.3"/>
<rect x="455" y="132" width="4.0" height="8.3" fill="#0c9880"/>
<line x1="462.0" y1="111.8" x2="462.0" y2="134.4" stroke="#0c9880" stroke-opacity="0.72" stroke-width="1.3"/>
<rect x="460.1" y="111.8" width="3.7" height="20.9" fill="#0c9880"/>
<line x1="465.3" y1="111.8" x2="465.3" y2="128.8" stroke="#f23645" stroke-opacity="0.72" stroke-width="1.3"/>
<rect x="464" y="111.8" width="2.6" height="14.7" fill="#f23645"/>
<line x1="469.4" y1="123.1" x2="469.4" y2="151" stroke="#f23645" stroke-opacity="0.72" stroke-width="1.3"/>
<rect x="467.5" y="126" width="3.9" height="10.7" fill="#f23645"/>
<line x1="475.9" y1="128.2" x2="475.9" y2="150" stroke="#0c9880" stroke-opacity="0.72" stroke-width="1.3"/>
<rect x="473" y="131.6" width="5.7" height="5.0" fill="#0c9880"/>
<line x1="482.8" y1="97.6" x2="482.8" y2="132.7" stroke="#0c9880" stroke-opacity="0.72" stroke-width="1.3"/>
<rect x="480" y="119.1" width="5.6" height="12.5" fill="#0c9880"/>
<line x1="489.4" y1="98" x2="489.4" y2="129.3" stroke="#0c9880" stroke-opacity="0.72" stroke-width="1.3"/>
<rect x="486.7" y="111.2" width="5.4" height="8.5" fill="#0c9880"/>
<line x1="495.8" y1="92" x2="495.8" y2="113.5" stroke="#0c9880" stroke-opacity="0.72" stroke-width="1.3"/>
<rect x="492.9" y="102.7" width="5.7" height="9.1" fill="#0c9880"/>
<line x1="500.2" y1="99.3" x2="500.2" y2="109.5" stroke="#f23645" stroke-opacity="0.72" stroke-width="1.3"/>
<rect x="499" y="103.3" width="2.4" height="2.8" fill="#f23645"/>
<line x1="503.1" y1="100" x2="503.1" y2="112.3" stroke="#0c9880" stroke-opacity="0.72" stroke-width="1.3"/>
<rect x="502" y="101" width="2.3" height="5.1" fill="#0c9880"/>
<line x1="508.1" y1="100.5" x2="508.1" y2="180.1" stroke="#f23645" stroke-opacity="0.72" stroke-width="1.3"/>
<rect x="504.8" y="101" width="6.5" height="38.3" fill="#f23645"/>
<line x1="516.0" y1="134.2" x2="516.0" y2="165.4" stroke="#f23645" stroke-opacity="0.72" stroke-width="1.3"/>
<rect x="512.7" y="139.3" width="6.6" height="8.5" fill="#f23645"/>
<line x1="521.0" y1="131.2" x2="521.0" y2="156.9" stroke="#0c9880" stroke-opacity="0.72" stroke-width="1.3"/>
<rect x="519.8" y="138.2" width="2.3" height="9.6" fill="#0c9880"/>
<line x1="524.3" y1="122.5" x2="524.3" y2="150" stroke="#f23645" stroke-opacity="0.72" stroke-width="1.3"/>
<rect x="522.6" y="138.2" width="3.4" height="9.1" fill="#f23645"/>
<line x1="527.5" y1="142.7" x2="527.5" y2="152.3" stroke="#0c9880" stroke-opacity="0.72" stroke-width="1.3"/>
<rect x="526.6" y="145" width="1.7" height="2.0" fill="#0c9880"/>
<line x1="530.0" y1="143.3" x2="530.0" y2="160.8" stroke="#f23645" stroke-opacity="0.72" stroke-width="1.3"/>
<rect x="528.9" y="146.7" width="2.2" height="6.8" fill="#f23645"/>
<line x1="532.8" y1="147" x2="532.8" y2="160.8" stroke="#0c9880" stroke-opacity="0.72" stroke-width="1.3"/>
<rect x="531.5" y="147" width="2.5" height="6.0" fill="#0c9880"/>
<line x1="535.5" y1="144.4" x2="535.5" y2="162" stroke="#f23645" stroke-opacity="0.72" stroke-width="1.3"/>
<rect x="534.2" y="148.4" width="2.6" height="13.6" fill="#f23645"/>
<line x1="538.7" y1="159.7" x2="538.7" y2="173.3" stroke="#f23645" stroke-opacity="0.72" stroke-width="1.3"/>
<rect x="537.1" y="160.8" width="3.1" height="9.1" fill="#f23645"/>
<line x1="543.2" y1="162.5" x2="543.2" y2="183.5" stroke="#f23645" stroke-opacity="0.72" stroke-width="1.3"/>
<rect x="540.5" y="169.9" width="5.4" height="7.9" fill="#f23645"/>
<line x1="550.4" y1="175.7" x2="550.4" y2="208.9" stroke="#f23645" stroke-opacity="0.72" stroke-width="1.3"/>
<rect x="547" y="178" width="6.8" height="24.0" fill="#f23645"/>
<line x1="559.0" y1="186.4" x2="559.0" y2="226.4" stroke="#0c9880" stroke-opacity="0.72" stroke-width="1.3"/>
<rect x="555.8" y="190" width="6.3" height="12.0" fill="#0c9880"/>
<line x1="565.2" y1="175.1" x2="565.2" y2="201" stroke="#f23645" stroke-opacity="0.72" stroke-width="1.3"/>
<rect x="563.2" y="190.6" width="3.9" height="7.1" fill="#f23645"/>
<line x1="568.8" y1="191" x2="568.8" y2="205.5" stroke="#f23645" stroke-opacity="0.72" stroke-width="1.3"/>
<rect x="567.6" y="198" width="2.4" height="3.0" fill="#f23645"/>
<line x1="572.3" y1="175.7" x2="572.3" y2="205.5" stroke="#0c9880" stroke-opacity="0.72" stroke-width="1.3"/>
<rect x="570.8" y="184" width="3.1" height="17.0" fill="#0c9880"/>
<line x1="575.9" y1="175" x2="575.9" y2="188.6" stroke="#0c9880" stroke-opacity="0.72" stroke-width="1.3"/>
<rect x="574.7" y="175.7" width="2.3" height="8.6" fill="#0c9880"/>
<line x1="578.1" y1="168.9" x2="578.1" y2="180" stroke="#f23645" stroke-opacity="0.72" stroke-width="1.3"/>
<rect x="577.3" y="176.2" width="1.7" height="2.3" fill="#f23645"/>
<line x1="580.6" y1="176.2" x2="580.6" y2="193.5" stroke="#f23645" stroke-opacity="0.72" stroke-width="1.3"/>
<rect x="579.5" y="177.4" width="2.3" height="12.6" fill="#f23645"/>
<line x1="583.2" y1="178.5" x2="583.2" y2="194.4" stroke="#f23645" stroke-opacity="0.72" stroke-width="1.3"/>
<rect x="582.4" y="180" width="1.7" height="10.5" fill="#f23645"/>
<line x1="585.8" y1="188.1" x2="585.8" y2="196" stroke="#0c9880" stroke-opacity="0.72" stroke-width="1.3"/>
<rect x="584.6" y="189.5" width="2.3" height="2.0" fill="#0c9880"/>
<line x1="588.6" y1="188.7" x2="588.6" y2="198.6" stroke="#f23645" stroke-opacity="0.72" stroke-width="1.3"/>
<rect x="587.5" y="190.3" width="2.2" height="6.2" fill="#f23645"/>
<line x1="591.1" y1="188.1" x2="591.1" y2="204.3" stroke="#f23645" stroke-opacity="0.72" stroke-width="1.3"/>
<rect x="590.2" y="196.4" width="1.8" height="5.1" fill="#f23645"/>
<line x1="593.7" y1="197" x2="593.7" y2="207.2" stroke="#f23645" stroke-opacity="0.72" stroke-width="1.3"/>
<rect x="592.6" y="199.3" width="2.2" height="6.2" fill="#f23645"/>
<line x1="596.5" y1="181.9" x2="596.5" y2="208.3" stroke="#0c9880" stroke-opacity="0.72" stroke-width="1.3"/>
<rect x="595.2" y="182.7" width="2.5" height="22.3" fill="#0c9880"/>
<line x1="599.1" y1="159.3" x2="599.1" y2="184.7" stroke="#0c9880" stroke-opacity="0.72" stroke-width="1.3"/>
<rect x="598" y="168.9" width="2.2" height="14.1" fill="#0c9880"/>
<line x1="601.5" y1="149.3" x2="601.5" y2="170" stroke="#0c9880" stroke-opacity="0.72" stroke-width="1.3"/>
<rect x="600.4" y="156.4" width="2.2" height="12.6" fill="#0c9880"/>
<line x1="604.0" y1="143.2" x2="604.0" y2="159.2" stroke="#0c9880" stroke-opacity="0.72" stroke-width="1.3"/>
<rect x="602.9" y="153.6" width="2.2" height="4.7" fill="#0c9880"/>
<line x1="606.5" y1="148.4" x2="606.5" y2="157.8" stroke="#0c9880" stroke-opacity="0.72" stroke-width="1.3"/>
<rect x="605.7" y="153" width="1.6" height="3.0" fill="#0c9880"/>
<line x1="609.0" y1="142.2" x2="609.0" y2="159.7" stroke="#f23645" stroke-opacity="0.72" stroke-width="1.3"/>
<rect x="607.9" y="151.7" width="2.3" height="3.8" fill="#f23645"/>
<line x1="611.8" y1="154" x2="611.8" y2="180" stroke="#f23645" stroke-opacity="0.72" stroke-width="1.3"/>
<rect x="610.5" y="154.5" width="2.5" height="24.1" fill="#f23645"/>
<line x1="614.4" y1="177.2" x2="614.4" y2="206.4" stroke="#f23645" stroke-opacity="0.72" stroke-width="1.3"/>
<rect x="613.3" y="178.1" width="2.2" height="14.7" fill="#f23645"/>
<line x1="617.0" y1="189" x2="617.0" y2="211.2" stroke="#f23645" stroke-opacity="0.72" stroke-width="1.3"/>
<rect x="615.7" y="192.8" width="2.5" height="16.9" fill="#f23645"/>
<line x1="619.8" y1="198" x2="619.8" y2="215.4" stroke="#0c9880" stroke-opacity="0.72" stroke-width="1.3"/>
<rect x="618.4" y="206.4" width="2.8" height="3.3" fill="#0c9880"/>
<line x1="622.9" y1="197" x2="622.9" y2="211.6" stroke="#0c9880" stroke-opacity="0.72" stroke-width="1.3"/>
<rect x="621.7" y="203.1" width="2.3" height="3.3" fill="#0c9880"/>
<line x1="625.5" y1="199.4" x2="625.5" y2="208.3" stroke="#f23645" stroke-opacity="0.72" stroke-width="1.3"/>
<rect x="624.5" y="202" width="1.9" height="1.5" fill="#f23645"/>
<line x1="630.0" y1="197.5" x2="630.0" y2="234.9" stroke="#f23645" stroke-opacity="0.72" stroke-width="1.3"/>
<rect x="627.9" y="203.9" width="4.2" height="11.8" fill="#f23645"/>
<line x1="634.5" y1="208.8" x2="634.5" y2="220.3" stroke="#f23645" stroke-opacity="0.72" stroke-width="1.3"/>
<rect x="633.4" y="215.5" width="2.1" height="1.9" fill="#f23645"/>
<line x1="637.7" y1="190.9" x2="637.7" y2="225" stroke="#0c9880" stroke-opacity="0.72" stroke-width="1.3"/>
<rect x="636.1" y="197" width="3.1" height="20.2" fill="#0c9880"/>
<line x1="640.5" y1="191.8" x2="640.5" y2="206" stroke="#f23645" stroke-opacity="0.72" stroke-width="1.3"/>
<rect x="639.6" y="196" width="1.9" height="7.1" fill="#f23645"/>
<line x1="643.0" y1="181" x2="643.0" y2="204" stroke="#0c9880" stroke-opacity="0.72" stroke-width="1.3"/>
<rect x="641.8" y="184.3" width="2.5" height="18.4" fill="#0c9880"/>
<line x1="645.8" y1="180.5" x2="645.8" y2="205" stroke="#f23645" stroke-opacity="0.72" stroke-width="1.3"/>
<rect x="644.6" y="184.3" width="2.3" height="12.7" fill="#f23645"/>
<line x1="649.5" y1="183.3" x2="649.5" y2="221.2" stroke="#f23645" stroke-opacity="0.72" stroke-width="1.3"/>
<rect x="648" y="197" width="3.1" height="15.7" fill="#f23645"/>
<line x1="653.5" y1="191.3" x2="653.5" y2="224.5" stroke="#f23645" stroke-opacity="0.72" stroke-width="1.3"/>
<rect x="651.9" y="212.5" width="3.3" height="10.1" fill="#f23645"/>
<line x1="657.3" y1="209" x2="657.3" y2="234" stroke="#0c9880" stroke-opacity="0.72" stroke-width="1.3"/>
<rect x="656.1" y="213.2" width="2.4" height="9.4" fill="#0c9880"/>
<line x1="660.0" y1="208.5" x2="660.0" y2="227.5" stroke="#f23645" stroke-opacity="0.72" stroke-width="1.3"/>
<rect x="659" y="213.2" width="2.0" height="13.7" fill="#f23645"/>
<line x1="663.2" y1="225" x2="663.2" y2="242.9" stroke="#f23645" stroke-opacity="0.72" stroke-width="1.3"/>
<rect x="661.3" y="226.9" width="3.8" height="10.8" fill="#f23645"/>
<line x1="666.9" y1="232" x2="666.9" y2="247.6" stroke="#f23645" stroke-opacity="0.72" stroke-width="1.3"/>
<rect x="665.6" y="237.7" width="2.6" height="4.3" fill="#f23645"/>
<line x1="669.3" y1="216.5" x2="669.3" y2="247.2" stroke="#0c9880" stroke-opacity="0.72" stroke-width="1.3"/>
<rect x="668.4" y="222.2" width="1.9" height="20.3" fill="#0c9880"/>
<line x1="672.4" y1="194.7" x2="672.4" y2="224.5" stroke="#0c9880" stroke-opacity="0.72" stroke-width="1.3"/>
<rect x="670.8" y="209.2" width="3.2" height="13.0" fill="#0c9880"/>
<line x1="678.7" y1="186.7" x2="678.7" y2="233.5" stroke="#0c9880" stroke-opacity="0.72" stroke-width="1.3"/>
<rect x="675.4" y="202.7" width="6.6" height="6.6" fill="#0c9880"/>
<line x1="684.5" y1="193.8" x2="684.5" y2="211.2" stroke="#0c9880" stroke-opacity="0.72" stroke-width="1.3"/>
<rect x="683.1" y="200.4" width="2.8" height="2.3" fill="#0c9880"/>
<line x1="689.2" y1="179.2" x2="689.2" y2="204.6" stroke="#f23645" stroke-opacity="0.72" stroke-width="1.3"/>
<rect x="686.9" y="200.4" width="4.7" height="1.4" fill="#f23645"/>
<line x1="693.5" y1="187.2" x2="693.5" y2="203.7" stroke="#0c9880" stroke-opacity="0.72" stroke-width="1.3"/>
<rect x="692" y="199.9" width="2.9" height="1.4" fill="#0c9880"/>
<line x1="696.2" y1="189" x2="696.2" y2="203" stroke="#f23645" stroke-opacity="0.72" stroke-width="1.3"/>
<rect x="695.2" y="199.5" width="2.0" height="2.0" fill="#f23645"/>
<line x1="698.9" y1="190" x2="698.9" y2="232" stroke="#f23645" stroke-opacity="0.72" stroke-width="1.3"/>
<rect x="697.6" y="200.8" width="2.5" height="30.3" fill="#f23645"/>
<line x1="703.0" y1="223.1" x2="703.0" y2="263" stroke="#f23645" stroke-opacity="0.72" stroke-width="1.3"/>
<rect x="700.4" y="230.2" width="5.3" height="25.3" fill="#f23645"/>
<line x1="711.9" y1="209.9" x2="711.9" y2="342.3" stroke="#0c9880" stroke-opacity="0.72" stroke-width="1.3"/>
<rect x="707.9" y="226.9" width="8.0" height="28.6" fill="#0c9880"/>
<line x1="720.8" y1="226.8" x2="720.8" y2="256.9" stroke="#f23645" stroke-opacity="0.72" stroke-width="1.3"/>
<rect x="718.3" y="226.8" width="4.9" height="23.0" fill="#f23645"/>
<line x1="726.5" y1="243.2" x2="726.5" y2="260.2" stroke="#f23645" stroke-opacity="0.72" stroke-width="1.3"/>
<rect x="725" y="250.3" width="3.0" height="5.2" fill="#f23645"/>
<line x1="731.0" y1="239" x2="731.0" y2="272" stroke="#f23645" stroke-opacity="0.72" stroke-width="1.3"/>
<rect x="729.2" y="255.5" width="3.7" height="15.5" fill="#f23645"/>
<line x1="736.0" y1="254.5" x2="736.0" y2="283.3" stroke="#f23645" stroke-opacity="0.72" stroke-width="1.3"/>
<rect x="734.2" y="271" width="3.7" height="3.8" fill="#f23645"/>
<line x1="740.2" y1="252" x2="740.2" y2="276" stroke="#0c9880" stroke-opacity="0.72" stroke-width="1.3"/>
<rect x="738.6" y="253.6" width="3.1" height="22.1" fill="#0c9880"/>
<line x1="743.8" y1="243.1" x2="743.8" y2="259.6" stroke="#0c9880" stroke-opacity="0.72" stroke-width="1.3"/>
<rect x="742.3" y="246" width="2.9" height="9.8" fill="#0c9880"/>
<line x1="748.0" y1="226.4" x2="748.0" y2="254.9" stroke="#0c9880" stroke-opacity="0.72" stroke-width="1.3"/>
<rect x="746.1" y="233.6" width="3.7" height="12.8" fill="#0c9880"/>
<line x1="753.0" y1="204.2" x2="753.0" y2="234.5" stroke="#0c9880" stroke-opacity="0.72" stroke-width="1.3"/>
<rect x="750.9" y="219.7" width="4.2" height="14.1" fill="#0c9880"/>
<line x1="758.0" y1="216.4" x2="758.0" y2="242.2" stroke="#f23645" stroke-opacity="0.72" stroke-width="1.3"/>
<rect x="755.9" y="220.1" width="4.2" height="5.2" fill="#f23645"/>
<line x1="762.5" y1="218.3" x2="762.5" y2="243.6" stroke="#f23645" stroke-opacity="0.72" stroke-width="1.3"/>
<rect x="761.1" y="225.1" width="2.9" height="11.0" fill="#f23645"/>
<line x1="766.0" y1="222.8" x2="766.0" y2="238.9" stroke="#0c9880" stroke-opacity="0.72" stroke-width="1.3"/>
<rect x="764.7" y="230.8" width="2.7" height="5.2" fill="#0c9880"/>
<line x1="769.2" y1="225.2" x2="769.2" y2="241" stroke="#f23645" stroke-opacity="0.72" stroke-width="1.3"/>
<rect x="768.1" y="230.8" width="2.1" height="9.5" fill="#f23645"/>
<line x1="771.6" y1="238" x2="771.6" y2="251.1" stroke="#f23645" stroke-opacity="0.72" stroke-width="1.3"/>
<rect x="770.7" y="239.3" width="1.8" height="10.4" fill="#f23645"/>
<line x1="774.5" y1="238.9" x2="774.5" y2="257.3" stroke="#0c9880" stroke-opacity="0.72" stroke-width="1.3"/>
<rect x="773.5" y="243" width="1.9" height="1.5" fill="#0c9880"/>
<line x1="777.6" y1="233.2" x2="777.6" y2="256.3" stroke="#0c9880" stroke-opacity="0.72" stroke-width="1.3"/>
<rect x="776.3" y="240.3" width="2.6" height="8.9" fill="#0c9880"/>
<line x1="782.2" y1="210.8" x2="782.2" y2="243.6" stroke="#0c9880" stroke-opacity="0.72" stroke-width="1.3"/>
<rect x="780.3" y="216" width="3.8" height="24.3" fill="#0c9880"/>
<line x1="787.4" y1="192" x2="787.4" y2="216.5" stroke="#0c9880" stroke-opacity="0.72" stroke-width="1.3"/>
<rect x="784.9" y="192.9" width="5.0" height="23.1" fill="#0c9880"/>
<line x1="792.5" y1="180.7" x2="792.5" y2="211.8" stroke="#f23645" stroke-opacity="0.72" stroke-width="1.3"/>
<rect x="790.6" y="193.4" width="3.7" height="10.4" fill="#f23645"/>
<line x1="796.5" y1="194.8" x2="796.5" y2="213.7" stroke="#f23645" stroke-opacity="0.72" stroke-width="1.3"/>
<rect x="795.3" y="203.8" width="2.5" height="6.1" fill="#f23645"/>
<line x1="799.5" y1="204.2" x2="799.5" y2="217.5" stroke="#0c9880" stroke-opacity="0.72" stroke-width="1.3"/>
<rect x="798.4" y="207.5" width="2.3" height="1.5" fill="#0c9880"/>
<line x1="803.6" y1="201.9" x2="803.6" y2="229" stroke="#f23645" stroke-opacity="0.72" stroke-width="1.3"/>
<rect x="801.3" y="208.8" width="4.7" height="19.3" fill="#f23645"/>
<line x1="810.2" y1="222" x2="810.2" y2="252.6" stroke="#f23645" stroke-opacity="0.72" stroke-width="1.3"/>
<rect x="807.2" y="228.1" width="5.9" height="9.9" fill="#f23645"/>
<line x1="817.2" y1="232.8" x2="817.2" y2="262" stroke="#f23645" stroke-opacity="0.72" stroke-width="1.3"/>
<rect x="815" y="237.5" width="4.5" height="16.9" fill="#f23645"/>
<line x1="821.5" y1="243.2" x2="821.5" y2="272.8" stroke="#f23645" stroke-opacity="0.72" stroke-width="1.3"/>
<rect x="820.3" y="254.4" width="2.3" height="13.2" fill="#f23645"/>
<line x1="824.5" y1="265.3" x2="824.5" y2="290.7" stroke="#f23645" stroke-opacity="0.72" stroke-width="1.3"/>
<rect x="823.1" y="268.1" width="2.8" height="2.4" fill="#f23645"/>
<line x1="827.6" y1="262" x2="827.6" y2="277.5" stroke="#0c9880" stroke-opacity="0.72" stroke-width="1.3"/>
<rect x="826.4" y="262.9" width="2.4" height="8.1" fill="#0c9880"/>
<line x1="830.8" y1="248.8" x2="830.8" y2="273.8" stroke="#0c9880" stroke-opacity="0.72" stroke-width="1.3"/>
<rect x="829.2" y="253" width="3.1" height="9.9" fill="#0c9880"/>
<line x1="834.5" y1="251.6" x2="834.5" y2="293" stroke="#f23645" stroke-opacity="0.72" stroke-width="1.3"/>
<rect x="833" y="253" width="3.0" height="39.3" fill="#f23645"/>
<line x1="838.4" y1="289.6" x2="838.4" y2="321.7" stroke="#f23645" stroke-opacity="0.72" stroke-width="1.3"/>
<rect x="836.1" y="292" width="4.6" height="6.6" fill="#f23645"/>
<line x1="843.4" y1="279.7" x2="843.4" y2="299" stroke="#0c9880" stroke-opacity="0.72" stroke-width="1.3"/>
<rect x="841.7" y="289.2" width="3.3" height="9.4" fill="#0c9880"/>
<line x1="846.6" y1="279.9" x2="846.6" y2="296.5" stroke="#f23645" stroke-opacity="0.72" stroke-width="1.3"/>
<rect x="845.3" y="288.3" width="2.7" height="7.8" fill="#f23645"/>
<polyline points="7.4,279.0 11.3,288.1 20.7,288.1" fill="none" stroke="#e6868f" stroke-width="1.3" stroke-linejoin="round"/>
<polyline points="22.7,399.2 25.6,382.1 45.8,382.1 49.2,373.8 52.0,371.0 54.4,353.6 57.0,352.0 60.0,346.8 62.3,322.6 65.3,319.6 68.3,318.9 71.3,314.3 85.7,314.3" fill="none" stroke="#73c276" stroke-width="1.3" stroke-linejoin="round"/>
<polyline points="87.8,253.4 92.3,253.9 93.4,255.4 101.4,276.2 116.8,276.2" fill="none" stroke="#e6868f" stroke-width="1.3" stroke-linejoin="round"/>
<polyline points="119.1,352.1 121.7,334.0 133.4,334.0 137.9,320.0 143.7,294.9 153.3,270.0 162.6,240.0 168.0,229.0 170.0,224.5 171.7,221.7 191.0,221.7 193.8,217.2 217.6,217.2 221.5,207.0 238.5,207.0 246.0,194.4 248.3,193.7 304.3,193.7" fill="none" stroke="#73c276" stroke-width="1.3" stroke-linejoin="round"/>
<polyline points="308.2,137.5 313.7,154.4 317.5,157.8 339.7,157.8" fill="none" stroke="#e6868f" stroke-width="1.3" stroke-linejoin="round"/>
<polyline points="346.2,227.6 357.6,210.0 452.4,210.0 456.8,202.1 461.3,188.5 465.9,184.5 489.6,184.5 496.4,175.5 499.8,173.5 538.0,173.5" fill="none" stroke="#73c276" stroke-width="1.3" stroke-linejoin="round"/>
<polyline points="542.5,107.0 550.0,119.3 558.7,127.2 583.0,127.2 588.1,137.9 591.5,141.9 593.8,148.3 624.0,148.3 630.5,155.0 634.0,157.2 660.6,157.2 662.8,164.3 667.4,172.4 731.5,172.4 739.0,174.9 769.2,175.0 774.2,180.0 817.1,180.2 821.3,183.5 824.6,198.1 833.6,198.1 838.3,217.9 846.3,218.4" fill="none" stroke="#e6868f" stroke-width="1.3" stroke-linejoin="round"/>
<g>
<line x1="8" y1="296.5" x2="963" y2="296.5" stroke="#f23645" stroke-opacity="0.55" stroke-width="1" stroke-dasharray="1 2"/>
<line x1="8" y1="91.4" x2="913.8" y2="91.4" stroke="#696969" stroke-width="1.5"/>
<line x1="8" y1="161.7" x2="894.9" y2="161.7" stroke="#696969" stroke-width="1.5"/>
<line x1="8" y1="217.4" x2="894.9" y2="217.4" stroke="#696969" stroke-width="1.5"/>
<line x1="8" y1="255.6" x2="905.7" y2="255.6" stroke="#696969" stroke-width="1.5"/>
<line x1="8" y1="294.8" x2="894.9" y2="294.8" stroke="#696969" stroke-width="1.5"/>
<line x1="8" y1="342.8" x2="894.9" y2="342.8" stroke="#696969" stroke-width="1.5"/>
<line x1="8" y1="420.4" x2="913.8" y2="420.4" stroke="#696969" stroke-width="1.5"/>
</g>
</svg>
<div class="t" style="left:7.8px;top:6.6px;font-size:9px;letter-spacing:0.14px;color:#2a2e39">BeInCrypto1 published on TradingView.com, Mar 06, 2025 15:21 UTC+5:30</div>
<div class="t" style="left:13.9px;top:27px;font-size:9px;">Bittensor/Tether · 1D · GATEIO</div>
<div class="t" style="left:143.3px;top:27px;font-size:9px;">O</div>
<div class="t" style="left:150.4px;top:27px;font-size:9px;color:#f23645">300.1</div>
<div class="t" style="left:177.7px;top:27px;font-size:9px;">H</div>
<div class="t" style="left:184.8px;top:27px;font-size:9px;color:#f23645">312.0</div>
<div class="t" style="left:212.7px;top:27px;font-size:9px;">L</div>
<div class="t" style="left:217.6px;top:27px;font-size:9px;color:#f23645">289.1</div>
<div class="t" style="left:245px;top:27px;font-size:9px;">C</div>
<div class="t" style="left:251.4px;top:27px;font-size:9px;color:#f23645">289.7</div>
<div class="t" style="left:280.4px;top:27px;font-size:9px;color:#f23645">−10.3</div>
<div class="t" style="left:305.7px;top:27px;font-size:9px;color:#f23645">(−3.43%)</div>
<div class="t" style="left:13.9px;top:39.2px;font-size:9px;">Supertrend (10, 3)</div>
<div class="t" style="left:95px;top:39.5px;font-size:8px;">⌀</div>
<div class="t" style="left:106.1px;top:39.2px;font-size:9px;color:#f23645">414.1</div>
<div class="t" style="right:61px;top:86.9px;font-size:9.7px;color:#2e3038">1 (745.0) -</div>
<div class="t" style="right:61px;top:157.2px;font-size:9.7px;color:#2e3038">0.786 (538.6) -</div>
<div class="t" style="right:61px;top:212.9px;font-size:9.7px;color:#2e3038">0.618 (417.5) -</div>
<div class="t" style="right:61px;top:251.1px;font-size:9.7px;color:#2e3038">0.5 (349.1) -</div>
<div class="t" style="right:61px;top:290.3px;font-size:9.7px;color:#2e3038">0.382 (291.9) -</div>
<div class="t" style="right:61px;top:338.3px;font-size:9.7px;color:#2e3038">0.236 (234.0) -</div>
<div class="t" style="right:61px;top:415.9px;font-size:9.7px;color:#2e3038">0 (163.6) -</div>
<div class="t" style="left:970.5px;top:45.6px;font-size:9.6px;color:#2a2e39">900.0</div>
<div class="t" style="left:970.5px;top:76.7px;font-size:9.6px;color:#2a2e39">780.0</div>
<div class="t" style="left:970.5px;top:100.1px;font-size:9.6px;color:#2a2e39">700.0</div>
<div class="t" style="left:970.5px;top:126.5px;font-size:9.6px;color:#2a2e39">620.0</div>
<div class="t" style="left:970.5px;top:154.4px;font-size:9.6px;color:#2a2e39">545.0</div>
<div class="t" style="left:970.5px;top:186.6px;font-size:9.6px;color:#2a2e39">470.0</div>
<div class="t" style="left:970.5px;top:238.5px;font-size:9.6px;color:#2a2e39">370.0</div>
<div class="t" style="left:970.5px;top:263.3px;font-size:9.6px;color:#2a2e39">330.0</div>
<div class="t" style="left:970.5px;top:315.1px;font-size:9.6px;color:#2a2e39">260.0</div>
<div class="t" style="left:970.5px;top:341.7px;font-size:9.6px;color:#2a2e39">230.0</div>
<div class="t" style="left:970.5px;top:372.0px;font-size:9.6px;color:#2a2e39">200.0</div>
<div class="t" style="left:970.5px;top:394.8px;font-size:9.6px;color:#2a2e39">180.0</div>
<div class="t" style="left:970.5px;top:420.4px;font-size:9.6px;color:#2a2e39">160.0</div>
<div class="t" style="left:970.5px;top:443.3px;font-size:9.6px;color:#2a2e39">144.0</div>
<div class="t" style="left:970.5px;top:465.5px;font-size:9.6px;color:#2a2e39">130.0</div>
<div style="position:absolute;left:966px;top:22.5px;width:48px;height:19.5px;border:1px solid #eeeff2;border-radius:4px;box-sizing:border-box"></div>
<div class="t" style="left:973.2px;top:27.7px;font-size:9.1px;color:#2a2e39">USDT</div>
<div style="position:absolute;left:964px;top:167px;width:34.6px;height:12.4px;background:#4caf50;border-radius:0 2px 2px 0"></div>
<div class="t" style="left:970.8px;top:168.3px;font-size:9.7px;color:#fff;opacity:.92">510.6</div>
<div style="position:absolute;left:964px;top:212.3px;width:34.6px;height:12.4px;background:#f23645;border-radius:0 2px 2px 0"></div>
<div class="t" style="left:970.5px;top:213.6px;font-size:9.7px;color:#fff;opacity:.92">414.1</div>
<div style="position:absolute;left:964px;top:290px;width:49px;height:23px;background:#f23645;border-radius:0 2px 2px 0"></div>
<div class="t" style="left:970.7px;top:291.7px;font-size:9.7px;color:#fff;opacity:.92">289.7</div>
<div class="t" style="left:970.7px;top:302.2px;font-size:9.7px;color:#fff;opacity:.92">14:08:34</div>
<div class="t" style="left:58px;width:60px;text-align:center;top:489.2px;color:#2a2e39;font-size:9.3px;">Sep</div>
<div class="t" style="left:169px;width:60px;text-align:center;top:489.2px;color:#2a2e39;font-size:9.3px;">Oct</div>
<div class="t" style="left:278px;width:60px;text-align:center;top:489.2px;color:#2a2e39;font-size:9.3px;">Nov</div>
<div class="t" style="left:435.7px;width:60px;text-align:center;top:489.2px;color:#2a2e39;font-size:9.3px;">Dec</div>
<div class="t" style="left:566.5px;width:60px;text-align:center;top:489.2px;color:#2a2e39;font-weight:bold;font-size:10px;">2025</div>
<div class="t" style="left:669px;width:60px;text-align:center;top:489.2px;color:#2a2e39;font-size:9.3px;">Feb</div>
<div class="t" style="left:797.8px;width:60px;text-align:center;top:489.2px;color:#2a2e39;font-size:9.3px;">Mar</div>
<div class="t" style="left:895px;width:60px;text-align:center;top:489.2px;color:#2a2e39;font-size:9.3px;">Apr</div>
<svg style="left:7px;top:512px" width="16" height="9" viewBox="0 0 16 9"><path d="M0.2 0.8H5.8V7.8H3V3.7H0.2Z M11.5 1H14.8L12.1 7.8H9.1Z" fill="#222"/><circle cx="8.6" cy="2.5" r="1.4" fill="#222"/></svg>
<div class="t" style="left:24.8px;top:512.3px;font-size:10px;color:#222">TradingView</div>
</body></html>
